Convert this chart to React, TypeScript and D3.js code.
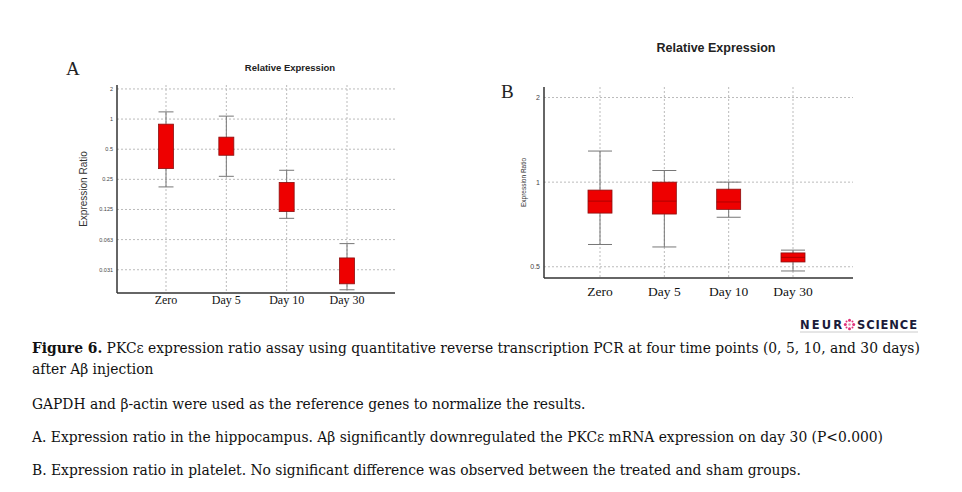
import React, {useEffect, useRef} from "react";
import * as d3 from "d3";

// time points on the x axis
const categories = ["Zero", "Day 5", "Day 10", "Day 30"];

// A: hippocampus (log2 scale)
const hippoLow = [0.21, 0.268, 0.102, 0.0197];
const hippoQ1 = [0.32, 0.435, 0.119, 0.0226];
const hippoQ3 = [0.89, 0.66, 0.233, 0.041];
const hippoHigh = [1.18, 1.07, 0.308, 0.057];
const hippoTicks = [2, 1, 0.5, 0.25, 0.125, 0.0625, 0.03125];
const hippoTickLabels = ["2", "1", "0.5", "0.25", "0.125", "0.063", "0.031"];

// B: platelet
const plateLow = [0.6, 0.588, 0.75, 0.483];
const plateQ1 = [0.776, 0.77, 0.8, 0.52];
const plateMedian = [0.856, 0.856, 0.85, 0.54];
const plateQ3 = [0.937, 1.0, 0.944, 0.56];
const plateHigh = [1.29, 1.1, 1.0, 0.573];
const plateTicks = [2, 1, 0.5];
const plateTickLabels = ["2", "1", "0.5"];

const captionLines = [
  "GAPDH and β-actin were used as the reference genes to normalize the results.",
  "A. Expression ratio in the hippocampus. Aβ significantly downregulated the PKCε mRNA expression on day 30 (P<0.000)",
  "B. Expression ratio in platelet. No significant difference was observed between the treated and sham groups.",
];

const SANS = "'Liberation Sans', Arial, sans-serif";
const SERIF = "'Liberation Serif', 'Times New Roman', serif";
const CAPTION = "'DejaVu Serif', serif";

interface PanelOpts {
  left: number;
  right: number;
  top: number;
  bottom: number;
  xFirst: number;
  xLast: number;
  domain: [number, number];
  ticks: number[];
  tickLabels: string[];
  low: number[];
  q1: number[];
  median: number[] | null;
  q3: number[];
  high: number[];
  boxW: number;
  tickSize: number;
  catSize: number;
  catY: number;
  title: string;
  titleX: number;
  titleY: number;
  titleSize: number;
  yTitleX: number;
  yTitleSize: number;
  letter: string;
  letterX: number;
  letterY: number;
}

function drawPanel(svg: d3.Selection<SVGSVGElement, unknown, null, undefined>, o: PanelOpts) {
  const g = svg.append("g");
  const x = d3.scalePoint<string>().domain(categories).range([o.xFirst, o.xLast]);
  const y = d3.scaleLog().base(2).domain(o.domain).range([o.bottom, o.top]);

  // dotted grid
  g.selectAll(".hgrid")
    .data(o.ticks)
    .enter()
    .append("line")
    .attr("x1", o.left)
    .attr("x2", o.right)
    .attr("y1", (d) => y(d))
    .attr("y2", (d) => y(d))
    .attr("stroke", "#bbb")
    .attr("stroke-width", 1)
    .attr("stroke-dasharray", "2,2");

  g.selectAll(".vgrid")
    .data(categories)
    .enter()
    .append("line")
    .attr("x1", (d) => x(d)!)
    .attr("x2", (d) => x(d)!)
    .attr("y1", o.top)
    .attr("y2", o.bottom)
    .attr("stroke", "#bbb")
    .attr("stroke-width", 1)
    .attr("stroke-dasharray", "2,2");

  // whiskers + boxes
  categories.forEach((c, i) => {
    const cx = x(c)!;
    g.append("line")
      .attr("x1", cx).attr("x2", cx)
      .attr("y1", y(o.high[i])).attr("y2", y(o.low[i]))
      .attr("stroke", "#777").attr("stroke-width", 1);
    [o.high[i], o.low[i]].forEach((v) => {
      g.append("line")
        .attr("x1", cx - o.boxW / 2).attr("x2", cx + o.boxW / 2)
        .attr("y1", y(v)).attr("y2", y(v))
        .attr("stroke", "#777").attr("stroke-width", 1);
    });
    g.append("rect")
      .attr("x", cx - o.boxW / 2)
      .attr("width", o.boxW)
      .attr("y", y(o.q3[i]))
      .attr("height", y(o.q1[i]) - y(o.q3[i]))
      .attr("fill", "#ee0000")
      .attr("stroke", "#8a1010")
      .attr("stroke-width", 0.8);
    if (o.median) {
      g.append("line")
        .attr("x1", cx - o.boxW / 2).attr("x2", cx + o.boxW / 2)
        .attr("y1", y(o.median[i])).attr("y2", y(o.median[i]))
        .attr("stroke", "#a00000").attr("stroke-width", 0.8);
    }
  });

  // axes lines
  g.append("line")
    .attr("x1", o.left).attr("x2", o.left)
    .attr("y1", o.top).attr("y2", o.bottom)
    .attr("stroke", "#333").attr("stroke-width", 1.5);
  g.append("line")
    .attr("x1", o.left).attr("x2", o.right)
    .attr("y1", o.bottom).attr("y2", o.bottom)
    .attr("stroke", "#333").attr("stroke-width", 1.5);

  // y tick labels
  g.selectAll(".ytl")
    .data(o.ticks)
    .enter()
    .append("text")
    .attr("x", o.left - 4)
    .attr("y", (d) => y(d))
    .attr("dy", "0.35em")
    .attr("text-anchor", "end")
    .attr("font-family", SANS)
    .attr("font-size", o.tickSize)
    .attr("fill", "#444")
    .text((d, i) => o.tickLabels[i]);

  // category labels
  g.selectAll(".cat")
    .data(categories)
    .enter()
    .append("text")
    .attr("x", (d) => x(d)!)
    .attr("y", o.catY)
    .attr("text-anchor", "middle")
    .attr("font-family", SERIF)
    .attr("font-size", o.catSize)
    .attr("fill", "#111")
    .text((d) => d);

  g.append("text")
    .attr("x", o.titleX)
    .attr("y", o.titleY)
    .attr("text-anchor", "middle")
    .attr("font-family", SANS)
    .attr("font-weight", "bold")
    .attr("font-size", o.titleSize)
    .attr("fill", "#222")
    .text(o.title);

  g.append("text")
    .attr("transform", `translate(${o.yTitleX},${(o.top + o.bottom) / 2}) rotate(-90)`)
    .attr("text-anchor", "middle")
    .attr("dy", "0.35em")
    .attr("font-family", SANS)
    .attr("font-size", o.yTitleSize)
    .attr("fill", "#333")
    .text("Expression Ratio");

  g.append("text")
    .attr("x", o.letterX)
    .attr("y", o.letterY)
    .attr("font-family", SERIF)
    .attr("font-size", 19)
    .attr("fill", "#222")
    .text(o.letter);
}

function createFigure(node: SVGSVGElement) {
  const svg = d3.select(node);
  svg.selectAll("*").remove();

  drawPanel(svg, {
    left: 117, right: 395, top: 85, bottom: 293,
    xFirst: 166, xLast: 347,
    domain: [0.0183, 2.19],
    ticks: hippoTicks, tickLabels: hippoTickLabels,
    low: hippoLow, q1: hippoQ1, median: null, q3: hippoQ3, high: hippoHigh,
    boxW: 15, tickSize: 5.5, catSize: 12, catY: 304,
    title: "Relative Expression", titleX: 290, titleY: 71, titleSize: 9.5,
    yTitleX: 83, yTitleSize: 10,
    letter: "A", letterX: 66, letterY: 75,
  });

  drawPanel(svg, {
    left: 544, right: 853, top: 87, bottom: 278,
    xFirst: 600, xLast: 793,
    domain: [0.456, 2.18],
    ticks: plateTicks, tickLabels: plateTickLabels,
    low: plateLow, q1: plateQ1, median: plateMedian, q3: plateQ3, high: plateHigh,
    boxW: 24, tickSize: 7, catSize: 13.5, catY: 296,
    title: "Relative Expression", titleX: 716, titleY: 52, titleSize: 12.5,
    yTitleX: 524, yTitleSize: 6.5,
    letter: "B", letterX: 501, letterY: 98,
  });

  // journal logo
  const logo = svg.append("g");
  logo.append("text")
    .attr("x", 800).attr("y", 329)
    .attr("font-family", "'DejaVu Sans', sans-serif")
    .attr("font-weight", "bold")
    .attr("font-size", 11.5)
    .attr("fill", "#1b1b3a")
    .attr("textLength", 42)
    .text("NEUR");
  logo.append("text")
    .attr("x", 857).attr("y", 329)
    .attr("font-family", "'DejaVu Sans', sans-serif")
    .attr("font-weight", "bold")
    .attr("font-size", 11.5)
    .attr("fill", "#1b1b3a")
    .attr("textLength", 60)
    .text("SCIENCE");
  const icon = d3.range(8).map((i) => (i / 8) * Math.PI * 2);
  logo.selectAll(".dot")
    .data(icon)
    .enter()
    .append("circle")
    .attr("cx", (a) => 849.5 + Math.cos(a) * 4.2)
    .attr("cy", (a) => 324.5 + Math.sin(a) * 4.2)
    .attr("r", (a, i) => (i % 2 ? 1 : 1.5))
    .attr("fill", "#e0307a");
  logo.append("circle").attr("cx", 849.5).attr("cy", 324.5).attr("r", 1.3).attr("fill", "#e890b0");
  svg.append("line")
    .attr("x1", 800).attr("x2", 918).attr("y1", 332).attr("y2", 332)
    .attr("stroke", "#ccc").attr("stroke-width", 1);

  // caption
  const cap = svg.append("g")
    .attr("font-family", CAPTION)
    .attr("font-size", 13.85)
    .attr("fill", "#111");
  const l1 = cap.append("text").attr("x", 32).attr("y", 353);
  l1.append("tspan").attr("font-weight", "bold").text("Figure 6.");
  l1.append("tspan").text(" PKCε expression ratio assay using quantitative reverse transcription PCR at four time points (0, 5, 10, and 30 days)");
  cap.append("text").attr("x", 32).attr("y", 374).text("after Aβ injection");
  const ys = [409, 442, 475];
  captionLines.forEach((t, i) => {
    cap.append("text").attr("x", 32).attr("y", ys[i]).text(t);
  });
}

export default function App() {
  const ref = useRef<SVGSVGElement>(null);
  useEffect(() => {
    if (ref.current) createFigure(ref.current);
  }, []);
  return (
    <svg
      ref={ref}
      width={962}
      height={492}
      style={{position: "absolute", left: 0, top: 0, background: "#fff"}}
    />
  );
}
